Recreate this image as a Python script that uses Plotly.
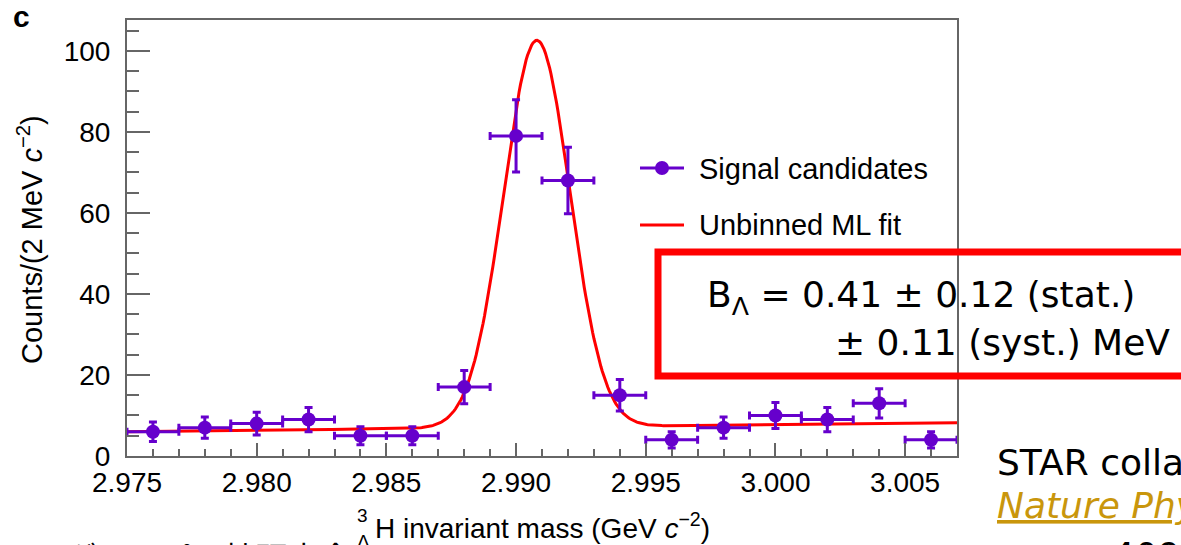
import numpy as np
import plotly.graph_objects as go

# ---------------- data ----------------
mass = [2.976, 2.978, 2.980, 2.982, 2.984, 2.986, 2.988, 2.990,
        2.992, 2.994, 2.996, 2.998, 3.000, 3.002, 3.004, 3.006]
counts = [6, 7, 8, 9, 5, 5, 17, 79, 68, 15, 4, 7, 10, 9, 13, 4]
count_err = [2.4, 2.6, 2.8, 3.0, 2.2, 2.2, 4.1, 8.9, 8.2, 3.9, 2.0, 2.6, 3.2, 3.0, 3.6, 2.0]
bin_half_width = 0.001

# unbinned ML fit model: Gaussian signal + linear background
fit_mean = 2.9908
fit_sigma = 0.00128
fit_amp = 95.5
bkg_left = 6.0     # background at 2.975
bkg_right = 8.2    # background at 3.007

x_range = [2.975, 3.007]
y_range = [0, 107.6]
x_ticks = [2.975, 2.980, 2.985, 2.990, 2.995, 3.000, 3.005]
y_ticks = [0, 20, 40, 60, 80, 100]

fit_x = np.linspace(x_range[0], x_range[1], 600)
fit_y = (bkg_left + (bkg_right - bkg_left) * (fit_x - x_range[0]) / (x_range[1] - x_range[0])
         + fit_amp * np.exp(-0.5 * ((fit_x - fit_mean) / fit_sigma) ** 2))

# ---------------- layout geometry ----------------
W, H = 1181, 545
L, R, T, B = 127, 224, 20, 89
PW, PH = W - L - R, H - T - B


def px(x):
    return (x - L) / PW


def py(y):
    return (H - B - y) / PH


PURPLE = "#6600CC"
RED = "#FF0000"
AXIS = "#666666"
SANS = "Liberation Sans, Arial, sans-serif"
VERD = "DejaVu Sans, Verdana, sans-serif"

fig = go.Figure()

fig.add_trace(go.Scatter(
    x=fit_x, y=fit_y, mode="lines", line=dict(color=RED, width=3),
    showlegend=False, hoverinfo="skip"))

fig.add_trace(go.Scatter(
    x=mass, y=counts, mode="markers",
    marker=dict(size=14, color=PURPLE),
    error_y=dict(type="data", array=count_err, color=PURPLE, thickness=3, width=4),
    error_x=dict(type="constant", value=bin_half_width, color=PURPLE, thickness=3, width=4),
    showlegend=False))

fig.update_xaxes(
    range=x_range, tickmode="array", tickvals=x_ticks, tickformat=".3f",
    ticks="inside", ticklen=13, tickwidth=2, tickcolor=AXIS,
    showline=True, linecolor=AXIS, linewidth=2, mirror=True,
    showgrid=False, zeroline=False,
    minor=dict(dtick=0.001, tick0=2.975, ticks="inside", ticklen=7, tickwidth=1.5, tickcolor=AXIS),
    tickfont=dict(family=SANS, size=28, color="black"), ticklabelstandoff=0)

fig.update_yaxes(
    range=y_range, tickmode="array", tickvals=y_ticks,
    ticks="inside", ticklen=23, tickwidth=2, tickcolor=AXIS,
    showline=True, linecolor=AXIS, linewidth=2, mirror=True,
    showgrid=False, zeroline=False,
    minor=dict(dtick=5, tick0=0, ticks="inside", ticklen=12, tickwidth=1.5, tickcolor=AXIS),
    tickfont=dict(family=SANS, size=28, color="black"), ticklabelstandoff=9)

ann = []


def text(s, x, y, size, family=SANS, xanchor="center", color="black", angle=0):
    ann.append(dict(text=s, x=px(x), y=py(y), xref="paper", yref="paper",
                    xanchor=xanchor, yanchor="middle", showarrow=False,
                    textangle=angle, font=dict(family=family, size=size, color=color)))


text("<b>c</b>", 21, 16, 30)
text("Counts/(2 MeV <i>c</i><sup>−2</sup>)", 30, 240, 29, angle=-90)
text("H invariant mass (GeV <i>c</i><sup>−2</sup>)", 373, 526, 28, xanchor="left")
text("3", 370, 515, 19, xanchor="right")
text("Λ", 372, 541, 19, xanchor="right")

# legend (drawn by hand to match placement)
text("Signal candidates", 697, 169, 29, xanchor="left")
text("Unbinned ML fit", 697, 225, 29, xanchor="left")

# boxed result
text("B<sub>Λ</sub> = 0.41 ± 0.12 (stat.)", 705, 297, 36, family=VERD, xanchor="left")
text("± 0.11 (syst.) MeV", 833, 342, 36, family=VERD, xanchor="left")

# reference
text("STAR collaboration", 995, 462, 36, family=VERD, xanchor="left")
text("<i><u>Nature Physics 16</u></i>", 995, 505, 36, family=VERD, xanchor="left", color="#C9960C")
text("409–415 (2020)", 1110, 555, 36, family=VERD, xanchor="left")
text("ラムダハイパー核研究会 2023", 0, 556, 32, family="Noto Sans CJK JP", xanchor="left")

shapes = [
    dict(type="rect", xref="paper", yref="paper", x0=px(658), x1=px(1250), y0=py(376), y1=py(252),
         line=dict(color=RED, width=7), fillcolor="rgba(0,0,0,0)"),
    dict(type="line", xref="paper", yref="paper", x0=px(640), x1=px(684), y0=py(168), y1=py(168),
         line=dict(color=PURPLE, width=3)),
    dict(type="circle", xref="paper", yref="paper", xsizemode="pixel", ysizemode="pixel",
         xanchor=px(662), yanchor=py(168), x0=-7, x1=7, y0=-7, y1=7,
         line=dict(color=PURPLE, width=0), fillcolor=PURPLE),
    dict(type="line", xref="paper", yref="paper", x0=px(640), x1=px(684), y0=py(225), y1=py(225),
         line=dict(color=RED, width=3)),
]

fig.update_layout(
    width=W, height=H, margin=dict(l=L, r=R, t=T, b=B, pad=0),
    paper_bgcolor="white", plot_bgcolor="white",
    annotations=ann, shapes=shapes, showlegend=False)

fig.write_html("out.html", config={"displayModeBar": False},
               post_script="document.body.style.margin='0';document.body.style.overflow='hidden';")
